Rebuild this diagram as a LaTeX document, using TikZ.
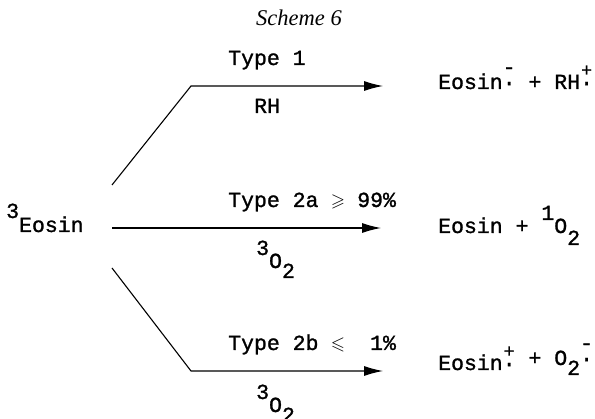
\documentclass[tikz,border=0pt]{standalone}
\usepackage{amssymb}
\usepackage{fontspec}
\setmainfont{Liberation Serif}
\setmonofont{Liberation Mono}[FakeBold=1.2]
\usetikzlibrary{arrows.meta}
\newcommand\radm{\makebox[0.6em][c]{\makebox[0pt][c]{\raisebox{0.7em}{-}}\makebox[0pt][c]{\raisebox{0.18em}{.}}}}
\newcommand\radp{\makebox[0.6em][c]{\makebox[0pt][c]{\raisebox{0.6em}{\scalebox{0.85}{+}}}\makebox[0pt][c]{\raisebox{0.18em}{.}}}}
\newcommand\gesym{\makebox[0.6em][c]{\scalebox{0.85}{$\geqslant$}}}
\newcommand\lesym{\makebox[0.6em][c]{\scalebox{0.85}{$\leqslant$}}}
\tikzset{
  tt/.style={font=\fontsize{21.5}{24}\selectfont\ttfamily, inner sep=0pt, anchor=base west},
  arr/.style={line width=1.1pt, -{Latex[length=19pt,width=10pt]}},
}
\begin{document}
\begin{tikzpicture}[x=1pt,y=-1pt]
\useasboundingbox[fill=white] (0,0) rectangle (595,419);
\node[font=\fontsize{22.5}{24}\selectfont\itshape, inner sep=0pt, anchor=base] (title) at (299,26) {Scheme 6};
\node[tt] (eosin) at (6,232) {\raisebox{14pt}{3}Eosin};
% labels
\node[tt] (t1) at (228,65) {Type 1};
\node[tt] (rh) at (254,113) {RH};
\node[tt] (t2a) at (228,207) {Type 2a \gesym\ 99\%};
\node[tt] (o2a) at (256,268) {\raisebox{13pt}{3}O\raisebox{-10pt}{2}};
\node[tt] (t2b) at (228,350) {Type 2b \lesym\ \ 1\%};
\node[tt] (o2b) at (256,412) {\raisebox{13pt}{3}O\raisebox{-10pt}{2}};
% products
\node[tt] (p1) at (438,89) {Eosin\radm\ + RH\radp};
\node[tt] (p2) at (438,233) {Eosin + \raisebox{13pt}{1}O\raisebox{-12pt}{2}};
\node[tt] (p3) at (438,370) {Eosin\radp\ \raisebox{5pt}{+ O\raisebox{-10pt}{2}\radm}};
% connectors
\coordinate (a1s) at (112,185);
\coordinate (a1c) at (191,86);
\coordinate (a1e) at (383,86);
\coordinate (a2s) at (112,228);
\coordinate (a2e) at (381,228);
\coordinate (a3s) at (112,268);
\coordinate (a3c) at (191,371);
\coordinate (a3e) at (383,371);
\draw[arr] (a1s) -- (a1c) -- (a1e);
\draw[arr] (a2s) -- (a2e);
\draw[arr] (a3s) -- (a3c) -- (a3e);
\end{tikzpicture}
\end{document}
